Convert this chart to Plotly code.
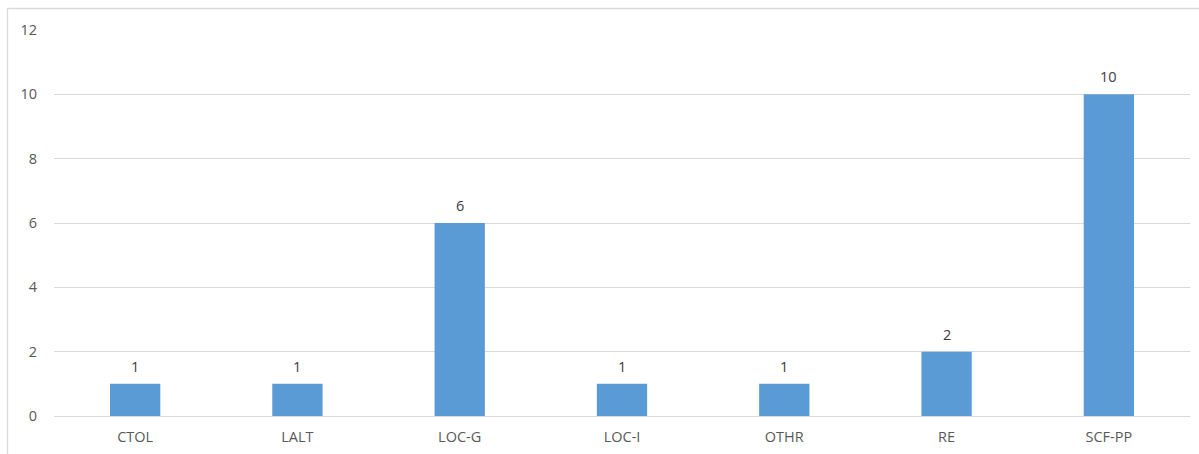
import plotly.graph_objects as go

categories = ["CTOL", "LALT", "LOC-G", "LOC-I", "OTHR", "RE", "SCF-PP"]
counts = [1, 1, 6, 1, 1, 2, 10]
y_ticks = [0, 2, 4, 6, 8, 10, 12]

W, H = 1199, 454
L, R, T, B = 54, 9, 30, 38
plot_w = W - L - R
plot_h = H - T - B

BAR = "#5B9BD5"
GRID = "#D9D9D9"
FONT = "Open Sans, Liberation Sans, sans-serif"
FS = 14.5

fig = go.Figure(
    go.Bar(
        x=categories,
        y=counts,
        marker=dict(color=BAR, line=dict(width=0)),
        hoverinfo="x+y",
    )
)

# value labels above each bar
for c, v in zip(categories, counts):
    fig.add_annotation(
        x=c, y=v, text=str(v), showarrow=False,
        yanchor="bottom", yshift=6,
        font=dict(family=FONT, size=FS, color="#404040"),
    )

# outer chart frame (left and top edges visible)
def px_to_paper_x(px):
    return (px - L) / plot_w

def px_to_paper_y(py):
    return (H - B - py) / plot_h

fig.add_shape(
    type="rect", xref="paper", yref="paper",
    x0=px_to_paper_x(7.5), x1=px_to_paper_x(W + 10),
    y0=px_to_paper_y(H + 10), y1=px_to_paper_y(8.5),
    line=dict(color=GRID, width=1.3), fillcolor="rgba(0,0,0,0)",
    layer="below",
)

fig.update_layout(
    width=W, height=H,
    margin=dict(l=L, r=R, t=T, b=B),
    paper_bgcolor="white", plot_bgcolor="white",
    bargap=0.69,
    showlegend=False,
    font=dict(family=FONT, size=FS, color="#595959"),
    xaxis=dict(
        showgrid=False, showline=False, zeroline=False,
        ticks="", ticklabelstandoff=10,
        tickfont=dict(size=FS, color="#595959"),
    ),
    yaxis=dict(
        range=[0, 12], tickvals=y_ticks, ticktext=[str(t) for t in y_ticks],
        showgrid=True, gridcolor=GRID, gridwidth=1,
        zeroline=True, zerolinecolor=GRID, zerolinewidth=1,
        showline=False, ticks="", ticklabelstandoff=16,
        tickfont=dict(size=FS, color="#595959"),
    ),
)

fig.write_html("out.html")
